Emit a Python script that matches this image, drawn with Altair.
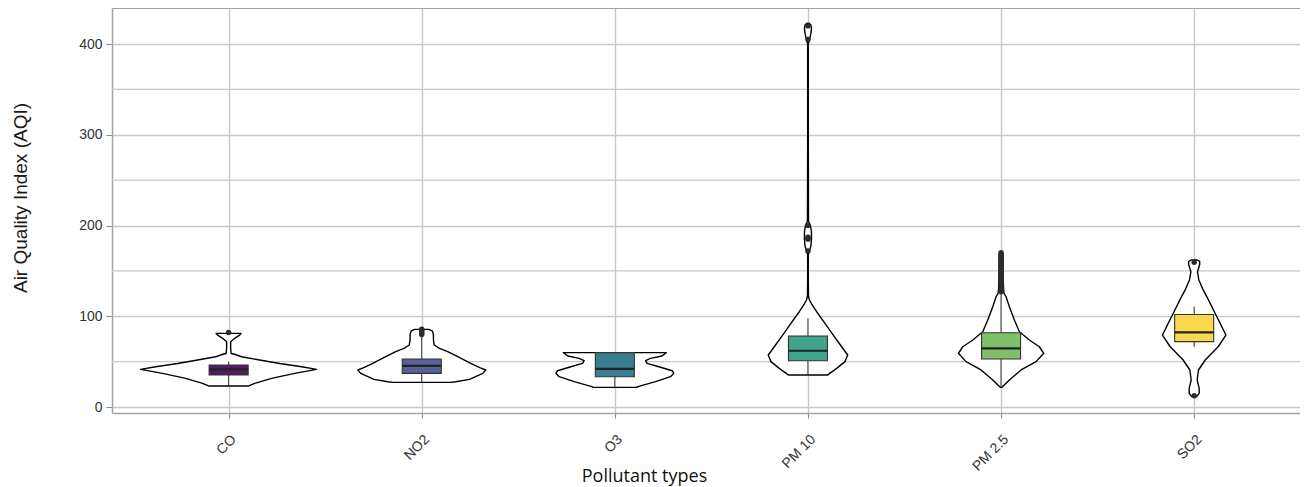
import json
import altair as alt
import pandas as pd

categories = ["CO", "NO2", "O3", "PM 10", "PM 2.5", "SO2"]
positions = [1, 2, 3, 4, 5, 6]
box_fill = ["#521c62", "#5a6098", "#3a7f8e", "#40a48a", "#80c06a", "#fad84c"]

# violin outlines: AQI level and relative density (half width)
co_aqi = [81.2, 79.3, 75.7, 72, 65, 59, 58.4, 55.4, 51.8, 48, 44.4, 41.5, 37, 31.6, 26, 23.1]
co_dens = [12.5, 11, 6, 2, 2, 2.5, 5, 13, 31, 51, 73, 88, 66, 43, 26, 19.5]

no2_aqi = [85.6, 84, 80, 74, 68.3, 64.6, 61, 55.4, 48.1, 43.3, 40.8, 37.1, 35.3, 30.5, 27.9, 27.2]
no2_dens = [7, 10.5, 11.7, 11.7, 12.5, 17.7, 26, 36, 49, 58, 64, 61, 57.7, 47.7, 34, 29]

o3_aqi = [59.9, 56.2, 53.6, 51.1, 48.1, 44.4, 40, 37.1, 33.4, 27.9, 22.4, 21.6]
o3_dens = [51.5, 47, 35.7, 30.7, 32.3, 44, 57.3, 59, 55.7, 40.7, 23, 22]

pm10_aqi = [423, 421, 417, 412, 405, 400, 300, 205, 200, 193, 185, 178, 172, 168, 140, 122,
            117.9, 112, 105, 92.2, 79.3, 66.4, 57.3, 50, 42.6, 36, 35.3]
pm10_dens = [1, 3, 3.5, 3, 1.5, 0.3, 0.3, 0.5, 2.5, 3.5, 3.5, 3, 1.5, 0.3, 0.3, 0.5,
             1.5, 4.5, 8.7, 17, 25.3, 33.7, 39.7, 37, 28.7, 20.3, 20]

pm25_aqi = [171, 168, 160, 150, 140, 130, 125.3, 121.5, 110.5, 95.9, 83, 73.8, 66.4, 59.2, 50, 40.8, 29.8, 21.7]
pm25_dens = [1, 2, 2, 2, 2.2, 2.5, 3, 5, 8.3, 13.3, 18.3, 28.3, 38.3, 42.7, 35, 20, 8.3, 0.8]

so2_aqi = [162, 160.5, 157, 149, 140, 129, 118, 103, 92.2, 79.3, 66.4, 51.8, 40.8, 29.8, 20.6, 15, 11.4]
so2_dens = [3, 5.5, 5.5, 3.3, 4.7, 9, 14.3, 21, 26, 31.7, 24, 11, 4.3, 3, 5, 5, 2.5]

violin_aqi = [co_aqi, no2_aqi, o3_aqi, pm10_aqi, pm25_aqi, so2_aqi]
violin_dens = [co_dens, no2_dens, o3_dens, pm10_dens, pm25_dens, so2_dens]

# box plot statistics
q1 = [35.3, 37.1, 33.4, 51.0, 52.9, 72.0]
median = [41.5, 45.4, 42.0, 62.0, 64.6, 82.3]
q3 = [46.3, 52.9, 59.9, 78.2, 81.9, 102.0]
whisker_low = [23.1, 27.2, 21.6, 35.3, 22.4, 66.4]
whisker_high = [50.0, 78.0, 59.9, 97.7, 125.0, 110.5]

co_out = [82]
no2_out = [80, 82, 84, 85.6]
o3_out = []
pm10_out = [172, 185, 187, 200, 405, 420]
pm25_out = [127, 129, 131, 133, 135, 137, 140, 142, 145, 148, 150, 153, 156, 159, 162, 165, 168, 170]
so2_out = [159.4, 12.5]
outliers = [co_out, no2_out, o3_out, pm10_out, pm25_out, so2_out]

minor_grid = [50, 150, 250, 350]

DENS_SCALE = 1 / 193.1   # density units -> category units
BOX_HALF = 0.101

viol_rows, box_rows, wh_rows, out_rows = [], [], [], []
for i, c in enumerate(categories):
    p = positions[i]
    pts = sorted(zip(violin_aqi[i], violin_dens[i]))          # ascending AQI
    path = [(a, p - d * DENS_SCALE) for a, d in pts]           # left side, bottom -> top
    path += [(a, p + d * DENS_SCALE) for a, d in reversed(pts)]  # right side, top -> bottom
    path.append(path[0])                                        # close outline
    for k, (a, xv) in enumerate(path):
        viol_rows.append({"cat": c, "aqi": a, "xv": xv, "k": k})
    box_rows.append({"cat": c, "l": p - BOX_HALF, "r": p + BOX_HALF, "q1": q1[i], "q3": q3[i],
                     "med": median[i], "fill": box_fill[i]})
    wh_rows.append({"cat": c, "pos": p, "a": q3[i], "b": whisker_high[i]})
    wh_rows.append({"cat": c, "pos": p, "a": whisker_low[i], "b": q1[i]})
    for v in outliers[i]:
        out_rows.append({"cat": c, "pos": p, "aqi": v})

viol_df = pd.DataFrame(viol_rows)
box_df = pd.DataFrame(box_rows)
wh_df = pd.DataFrame(wh_rows)
out_df = pd.DataFrame(out_rows)
grid_df = pd.DataFrame({"v": minor_grid})

x_scale = alt.Scale(domain=[0.396, 6.548], nice=False, zero=False)
y_scale = alt.Scale(domain=[-6.6, 439.7], nice=False, zero=False)

FRAME = "#a3a3a3"

x_axis = alt.Axis(
    values=positions,
    labelExpr=json.dumps(categories) + "[datum.value - 1]",
    labelAngle=315, labelAlign="right", labelBaseline="top", labelPadding=14,
    labelFont="Liberation Sans", labelFontSize=14, labelColor="#333333",
    tickSize=5, labelFlush=False, labelOverlap=False, labelBound=False,
    domain=True, domainColor=FRAME, domainWidth=1.5,
    title="Pollutant types", titleFont="Open Sans", titleFontSize=18, titleFontWeight="normal",
    titleColor="#111111", titleX=532, titleY=68, titleAlign="center", titleBaseline="alphabetic",
)
y_axis = alt.Axis(
    values=[0, 100, 200, 300, 400],
    labelFont="Liberation Sans", labelFontSize=14, labelColor="#333333", labelPadding=4,
    tickSize=6,
    domain=True, domainColor=FRAME, domainWidth=1.5,
    title="Air Quality Index (AQI)", titleFont="Liberation Sans", titleFontSize=19,
    titleFontWeight="normal", titleColor="#1a1a1a", titleAngle=270,
    titleX=-86, titleY=189.5, titleAlign="center", titleBaseline="alphabetic",
)

grid = alt.Chart(grid_df).mark_rule(color="#c8c8c8", strokeWidth=1.4).encode(
    y=alt.Y("v:Q", scale=y_scale, axis=y_axis)
)

top_border = alt.Chart(grid_df).mark_rule(color=FRAME, strokeWidth=1.5).encode(
    y=alt.value(0)
)

violin = alt.Chart(viol_df).mark_line(
    fill="white", stroke="black", strokeWidth=1.4, strokeJoin="round"
).encode(
    y=alt.Y("aqi:Q", scale=y_scale, axis=y_axis),
    x=alt.X("xv:Q", scale=x_scale, axis=x_axis),
    detail="cat:N",
    order=alt.Order("k:Q"),
)

whiskers = alt.Chart(wh_df).mark_rule(color="#333333", strokeWidth=1.1).encode(
    x=alt.X("pos:Q", scale=x_scale, axis=x_axis),
    y=alt.Y("a:Q", scale=y_scale, axis=y_axis),
    y2="b:Q",
)

boxes = alt.Chart(box_df).mark_rect(stroke="#333333", strokeWidth=1.1).encode(
    x=alt.X("l:Q", scale=x_scale, axis=x_axis),
    x2="r:Q",
    y=alt.Y("q1:Q", scale=y_scale, axis=y_axis),
    y2="q3:Q",
    fill=alt.Fill("fill:N", scale=None),
)

medians = alt.Chart(box_df).mark_rule(color="#222222", strokeWidth=2.2).encode(
    x=alt.X("l:Q", scale=x_scale, axis=x_axis),
    x2="r:Q",
    y=alt.Y("med:Q", scale=y_scale, axis=y_axis),
)

points = alt.Chart(out_df).mark_circle(size=30, color="#2b2b2b", opacity=1).encode(
    x=alt.X("pos:Q", scale=x_scale, axis=x_axis),
    y=alt.Y("aqi:Q", scale=y_scale, axis=y_axis),
)

chart = alt.layer(grid, top_border, violin, whiskers, boxes, medians, points).properties(
    width=1188, height=405,
    autosize=alt.AutoSizeParams(type="none"),
    padding={"left": 104, "top": 0, "right": 0, "bottom": 74},
    background="white",
).configure_view(
    strokeWidth=0
).configure_axis(
    grid=True, gridColor="#c8c8c8", gridWidth=1.4,
    tickColor="#8c8c8c", tickWidth=1.1,
)

chart.save("out.html", embed_options={"renderer": "svg", "actions": False})
